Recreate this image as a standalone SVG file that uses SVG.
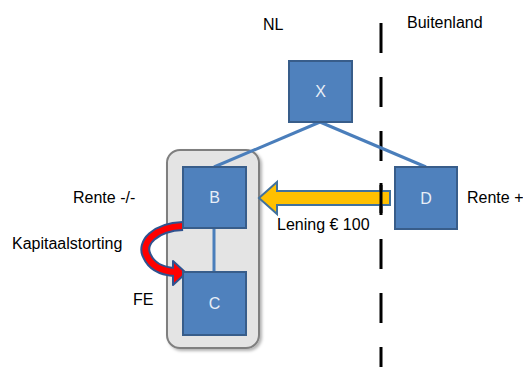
<svg xmlns="http://www.w3.org/2000/svg" width="523" height="367" viewBox="0 0 523 367">
<style>
.lbl{font-family:"Liberation Sans",Arial,sans-serif;font-size:16px;fill:#000}
.box{fill:#4F81BD;stroke:#385D8A;stroke-width:2}
.bt{font-family:"Liberation Sans",Arial,sans-serif;font-size:16px;fill:#E8EEF7;text-anchor:middle}
.con{stroke:#4A7EBB;stroke-width:3;fill:none}
</style>
<defs>
<filter id="sh" x="-10%" y="-10%" width="130%" height="130%">
<feDropShadow dx="2" dy="2" stdDeviation="1.5" flood-color="#000" flood-opacity="0.3"/>
</filter>
</defs>
<rect width="523" height="367" fill="#fff"/>
<g id="fe-group">
<rect x="167" y="150" width="92" height="198" rx="13" fill="#E4E4E4" stroke="#7F7F7F" stroke-width="2" filter="url(#sh)"/>
</g>
<g id="border">
<line x1="381" y1="23" x2="381" y2="367" stroke="#000" stroke-width="3" stroke-dasharray="30 24"/>
</g>
<g id="connectors">
<line class="con" x1="320" y1="122" x2="214" y2="167"/>
<line class="con" x1="320" y1="122" x2="426" y2="167"/>
<line class="con" x1="214" y1="228" x2="214" y2="272"/>
</g>
<g id="loan-arrow">
<polygon points="259,198 277,182 277,191 390,191 390,205 277,205 277,214" fill="#FFC000" stroke="#41719C" stroke-width="2" stroke-linejoin="miter"/>
<line x1="381" y1="183" x2="381" y2="213" stroke="#000" stroke-width="3"/>
</g>
<g id="kapitaal-arrow">
<path d="M183,226 C155,227 140,243 147,256 C151,265 160,271 174,272" fill="none" stroke="#2F528F" stroke-width="10"/>
<polygon points="173,261 186,273 173,285" fill="#FF0000" stroke="#2F528F" stroke-width="2" stroke-linejoin="round"/>
<path d="M183,226 C155,227 140,243 147,256 C151,265 160,271 175,272" fill="none" stroke="#FF0000" stroke-width="6"/>
</g>
<g id="node-X"><rect class="box" x="289" y="61" width="63" height="61"/><text class="bt" x="320.5" y="97">X</text></g>
<g id="node-B"><rect class="box" x="183" y="167" width="63" height="61"/><text class="bt" x="214.5" y="203">B</text></g>
<g id="node-C"><rect class="box" x="183" y="272" width="63" height="63"/><text class="bt" x="214.5" y="309">C</text></g>
<g id="node-D"><rect class="box" x="395" y="167" width="62" height="62"/><text class="bt" x="426" y="204">D</text></g>
<g id="labels">
<text class="lbl" x="263" y="30">NL</text>
<text class="lbl" x="407" y="28">Buitenland</text>
<text class="lbl" x="73" y="203">Rente -/-</text>
<text class="lbl" x="467" y="203">Rente +</text>
<text class="lbl" x="12" y="249" font-size="17">Kapitaalstorting</text>
<text class="lbl" x="133" y="305">FE</text>
<text class="lbl" x="277" y="230">Lening € 100</text>
</g>
</svg>
